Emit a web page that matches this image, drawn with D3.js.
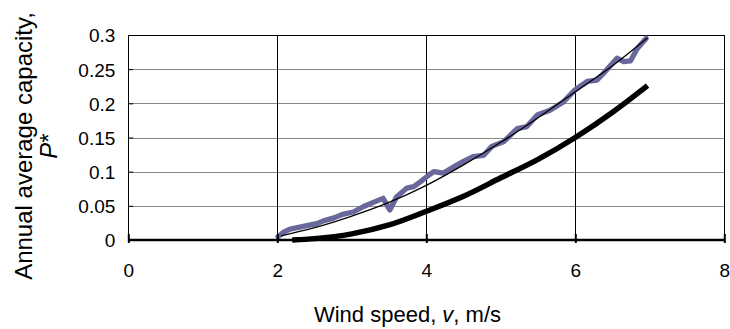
<!DOCTYPE html>
<html><head><meta charset="utf-8">
<script src="https://cdn.jsdelivr.net/npm/d3@7/dist/d3.min.js"></script>
<style>
body{margin:0;background:#fff}
svg{display:block}
text{font-family:"Liberation Sans",Arial,sans-serif;fill:#000}
</style>
</head><body>
<svg id="c" width="730" height="329"></svg>
<script>
// ---- data ----
const xTickValues = [0, 2, 4, 6, 8];
const xTickLabels = ["0", "2", "4", "6", "8"];
const yTickValues = [0, 0.05, 0.1, 0.15, 0.2, 0.25, 0.3];
const yTickLabels = ["0", "0.05", "0.1", "0.15", "0.2", "0.25", "0.3"];

// noisy measured series (blue-grey)
const measuredV = [2.01, 2.08, 2.17, 2.35, 2.53, 2.62, 2.75, 2.89, 3.02, 3.16, 3.29, 3.42, 3.51, 3.60, 3.74, 3.83, 3.92, 4.01, 4.10, 4.23, 4.37, 4.50, 4.63, 4.77, 4.88, 5.04, 5.22, 5.35, 5.49, 5.66, 5.84, 6.00, 6.16, 6.29, 6.38, 6.56, 6.65, 6.74, 6.83, 6.95];
const measuredP = [0.005, 0.011, 0.016, 0.020, 0.024, 0.028, 0.032, 0.038, 0.041, 0.049, 0.055, 0.061, 0.044, 0.063, 0.076, 0.078, 0.085, 0.093, 0.100, 0.098, 0.107, 0.115, 0.122, 0.124, 0.137, 0.144, 0.163, 0.166, 0.183, 0.190, 0.202, 0.220, 0.232, 0.234, 0.244, 0.266, 0.261, 0.262, 0.280, 0.295];

// smooth fit through measured series (thin black)
const fitV = [2.05, 2.5, 3.0, 3.5, 4.0, 4.5, 5.0, 5.5, 6.0, 6.5, 6.97];
const fitP = [0.006, 0.018, 0.035, 0.055, 0.080, 0.110, 0.143, 0.179, 0.217, 0.255, 0.296];

// model series (thick black)
const modelV = [2.2, 2.5, 3.0, 3.5, 4.0, 4.5, 5.0, 5.5, 6.0, 6.5, 6.97];
const modelP = [0.0, 0.002, 0.009, 0.022, 0.042, 0.064, 0.091, 0.118, 0.150, 0.187, 0.226];

const xTitle = "Wind speed, ";
const yTitle1 = "Annual average capacity,";

// ---- chart ----
const svg = d3.select("#c");
const L = 128.3, R = 724.3, T = 35, B = 240;
const x = d3.scaleLinear().domain([0, 8]).range([L, R]);
const y = d3.scaleLinear().domain([0, 0.3]).range([B, T]);

// horizontal gridlines
svg.append("g").selectAll("line").data(yTickValues.filter(d => d > 0 && d < 0.3)).join("line")
  .attr("x1", L).attr("x2", R)
  .attr("y1", d => Math.round(y(d)) + 0.5).attr("y2", d => Math.round(y(d)) + 0.5)
  .attr("stroke", "#8a8a8a").attr("stroke-width", 1);

// vertical gridlines
svg.append("g").selectAll("line").data(xTickValues.filter(d => d > 0 && d < 8)).join("line")
  .attr("x1", d => Math.round(x(d)) + 0.5).attr("x2", d => Math.round(x(d)) + 0.5)
  .attr("y1", T).attr("y2", B)
  .attr("stroke", "#000").attr("stroke-width", 1);

// frame
svg.append("rect").attr("x", Math.round(L) + 0.5).attr("y", T + 0.5)
  .attr("width", Math.round(R) - Math.round(L)).attr("height", B - T)
  .attr("fill", "none").attr("stroke", "#000").attr("stroke-width", 1);

// series
const line = d3.line().x(d => x(d[0])).y(d => y(d[1]));
const lineSmooth = d3.line().x(d => x(d[0])).y(d => y(d[1])).curve(d3.curveMonotoneX);

svg.append("path").datum(modelV.map((v, i) => [v, modelP[i]]))
  .attr("d", lineSmooth).attr("fill", "none").attr("stroke", "#000")
  .attr("stroke-width", 5.5).attr("stroke-linejoin", "round");

svg.append("path").datum(measuredV.map((v, i) => [v, measuredP[i]]))
  .attr("d", line).attr("fill", "none").attr("stroke", "#68689d")
  .attr("stroke-width", 5.3).attr("stroke-linejoin", "round").attr("stroke-linecap", "round");

svg.append("path").datum(fitV.map((v, i) => [v, fitP[i]]))
  .attr("d", lineSmooth).attr("fill", "none").attr("stroke", "#000")
  .attr("stroke-width", 1.3);

// x axis
const xAxis = svg.append("g").attr("transform", `translate(0,${B})`)
  .call(d3.axisBottom(x).tickValues(xTickValues).tickFormat((d, i) => xTickLabels[i]).tickSizeOuter(0));
xAxis.select(".domain").remove();
xAxis.selectAll(".tick line").attr("y1", -6).attr("y2", 3).attr("stroke", "#000").attr("stroke-width", 2);
xAxis.selectAll(".tick text").attr("y", 37).attr("dy", 0).style("font-size", "19px")
  .attr("font-family", null);
xAxis.append("line").attr("x1", L).attr("x2", R + 1).attr("y1", 0).attr("y2", 0)
  .attr("stroke", "#000").attr("stroke-width", 2.6);

// y axis
const yAxis = svg.append("g").attr("transform", `translate(${L},0)`)
  .call(d3.axisLeft(y).tickValues(yTickValues).tickFormat((d, i) => yTickLabels[i]).tickSizeOuter(0));
yAxis.select(".domain").remove();
yAxis.selectAll(".tick line").attr("x1", 0).attr("x2", 5).attr("stroke", "#000").attr("stroke-width", 1);
yAxis.selectAll(".tick text").attr("x", -13).attr("dy", "0.36em").style("font-size", "19px")
  .attr("font-family", null);
svg.selectAll(".tick text").attr("fill", "#000");

// titles
const xt = svg.append("text").attr("x", 407.5).attr("y", 322)
  .attr("text-anchor", "middle").style("font-size", "22px");
xt.append("tspan").text(xTitle);
xt.append("tspan").attr("font-style", "italic").text("v");
xt.append("tspan").text(", m/s");

const yt = svg.append("g").attr("transform", "translate(0,146) rotate(-90)");
yt.append("text").attr("x", 0).attr("y", 32).attr("text-anchor", "middle")
  .style("font-size", "24px").text(yTitle1);
const yt2 = yt.append("text").attr("x", 0).attr("y", 57).attr("text-anchor", "middle")
  .style("font-size", "24px");
yt2.append("tspan").attr("font-style", "italic").text("P");
yt2.append("tspan").text("*");
</script>
</body></html>
